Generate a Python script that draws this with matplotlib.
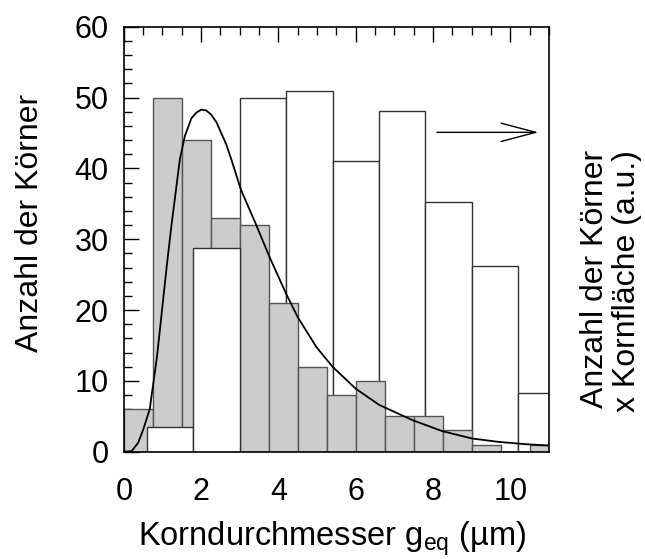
import matplotlib
matplotlib.use('Agg')
import matplotlib.pyplot as plt
from matplotlib.ticker import MultipleLocator

plt.rcParams['font.family'] = ['Liberation Sans', 'DejaVu Sans']
plt.rcParams['mathtext.fontset'] = 'custom'
plt.rcParams['mathtext.rm'] = 'Liberation Sans'

# grain count histogram (grey), bin width 0.75 um
count_left = [0, 0.75, 1.5, 2.25, 3.0, 3.75, 4.5, 5.25, 6.0, 6.75, 7.5, 8.25, 9.0, 9.75, 10.5]
count_width = 0.75
count_values = [6, 50, 44, 33, 32, 21, 12, 8, 10, 5, 5, 3, 1, 0, 1]

# count x grain area (white, a.u.), bin width 1.2 um
area_left = [0.6, 1.8, 3.0, 4.2, 5.4, 6.6, 7.8, 9.0, 10.2]
area_width = 1.2
area_values = [3.5, 28.7, 50.0, 51.0, 41.1, 48.1, 35.2, 26.2, 8.3]
area_front = [True, True, False, False, False, False, False, False, False]

# fitted distribution curve
fit_x = [0.0, 0.20, 0.37, 0.50, 0.67, 0.86, 0.98, 1.11, 1.24, 1.35, 1.45, 1.58,
         1.75, 1.88, 2.00, 2.13, 2.26, 2.40, 2.52, 2.65, 2.78, 3.03, 3.42,
         3.77, 4.20, 4.50, 4.98, 5.40, 6.00, 6.61, 7.47, 8.24, 9.01, 9.70,
         10.39, 11.0]
fit_y = [0.0, 0.07, 1.25, 3.1, 6.0, 13.5, 19.6, 26.2, 32.3, 37.0, 41.3, 44.6,
         47.1, 47.9, 48.3, 48.2, 47.6, 46.5, 45.0, 43.4, 41.3, 37.0, 32.1,
         27.5, 22.3, 19.0, 14.8, 12.0, 8.9, 6.6, 4.45, 2.9, 1.86, 1.38,
         1.06, 0.87]

fig = plt.figure(figsize=(6.45, 5.59), dpi=100)
ax = fig.add_axes([0.192, 0.192, 0.659, 0.760])

for left, h, front in zip(area_left, area_values, area_front):
    ax.bar(left, h, width=area_width, align='edge', color='white',
           edgecolor='#333333', linewidth=1.0, zorder=3 if front else 1)
ax.bar(count_left, count_values, width=count_width, align='edge', color='#cccccc',
       edgecolor='#555555', linewidth=1.0, zorder=2)

ax.plot(fit_x, fit_y, color='black', linewidth=1.3, zorder=4,
        solid_joinstyle='round')

ax.annotate('', xy=(10.73, 45.1), xytext=(8.1, 45.1),
            arrowprops=dict(arrowstyle='->,head_length=1.25,head_width=0.33',
                            mutation_scale=20, lw=1.0, color='black',
                            shrinkA=0, shrinkB=0), zorder=5)

ax.set_xlim(0, 11)
ax.set_ylim(0, 60)

ax.xaxis.set_major_locator(MultipleLocator(2))
ax.xaxis.set_minor_locator(MultipleLocator(0.5))
ax.yaxis.set_major_locator(MultipleLocator(10))
ax.yaxis.set_minor_locator(MultipleLocator(2))

ax.tick_params(axis='x', which='both', direction='in', bottom=False, top=True,
               labelsize=22, pad=18)
ax.tick_params(axis='x', which='major', length=11, width=1)
ax.tick_params(axis='x', which='minor', length=6, width=1)
ax.tick_params(axis='y', which='both', direction='in', left=True, right=False,
               labelsize=22, pad=11)
ax.tick_params(axis='y', which='major', length=11, width=1)
ax.tick_params(axis='y', which='minor', length=6, width=1)

for s in ax.spines.values():
    s.set_linewidth(1.2)
    s.set_zorder(6)

ax.set_xlabel(r'Korndurchmesser g$_{\mathregular{eq}}$ (µm)', fontsize=23.5)
ax.xaxis.set_label_coords(0.489, -0.160)
ax.xaxis.label.set_va('top')

fig.text(30 / 645, 1 - 223 / 559, 'Anzahl der Körner', rotation=90,
         fontsize=23, ha='center', va='center')
fig.text(611 / 645, 1 - 150 / 559, 'Anzahl der Körner\nx Kornfläche (a.u.)',
         rotation=90, fontsize=23, ha='center', va='top',
         multialignment='right', linespacing=1.08)

fig.savefig('out.png', dpi=100)
